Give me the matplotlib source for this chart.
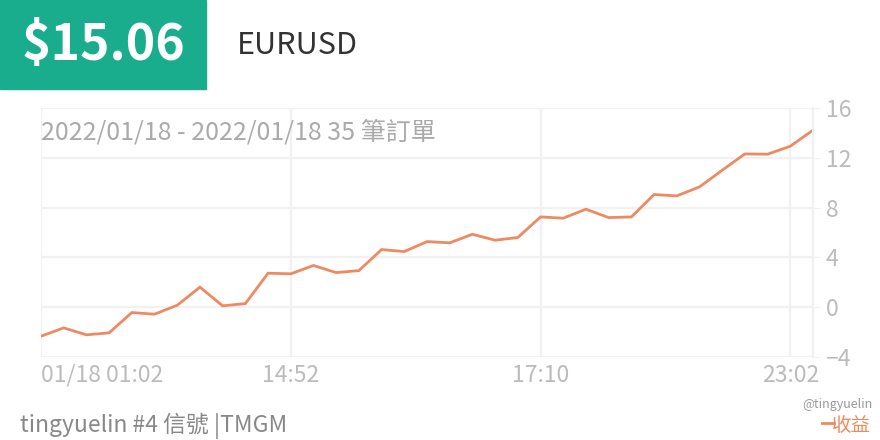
import matplotlib.pyplot as plt
from matplotlib.patches import Rectangle

plt.rcParams['font.family'] = ['Noto Sans CJK TC', 'DejaVu Sans']

# cumulative profit after each of the 35 orders
profit = [-2.33, -1.66, -2.22, -2.06, -0.43, -0.56, 0.16, 1.61, 0.11, 0.29,
          2.73, 2.68, 3.35, 2.78, 2.94, 4.63, 4.47, 5.27, 5.17, 5.86,
          5.38, 5.60, 7.25, 7.15, 7.87, 7.20, 7.25, 9.05, 8.94, 9.66,
          11.00, 12.31, 12.29, 12.93, 14.22]
tick_pos = [0, 11, 22, 33]
tick_labels = ["01/18 01:02", "14:52", "17:10", "23:02"]
y_ticks = [-4, 0, 4, 8, 12, 16]

total = "$15.06"
symbol = "EURUSD"
subtitle = "2022/01/18 - 2022/01/18 35 筆訂單"
footer = "tingyuelin #4 信號 |TMGM"

line_color = "#EE8A62"
grid_color = "#F1F1F1"
label_color = "#BBBBBB"

fig = plt.figure(figsize=(8.8, 4.4), dpi=100)
ax = fig.add_axes([41 / 880, 1 - 357 / 440, (813 - 41) / 880, (357 - 108) / 440])

ax.plot(range(len(profit)), profit, color=line_color, lw=2.0, solid_joinstyle="miter")
ax.set_xlim(0, len(profit) - 1)
ax.set_ylim(-4, 16)
ax.set_yticks(y_ticks)
ax.set_xticks(tick_pos, tick_labels)
ax.yaxis.tick_right()
ax.tick_params(axis="y", length=5, color=grid_color, pad=4, labelsize=16.5, labelcolor=label_color)
ax.tick_params(axis="x", length=0, pad=5, labelsize=16.5, labelcolor=label_color)
for lbl in ax.get_xticklabels() + ax.get_yticklabels():
    lbl.set_fontweight("light")
ax.get_xticklabels()[0].set_ha("left")
ax.grid(True, color=grid_color, lw=1.6)
for side in ["top", "bottom", "left"]:
    ax.spines[side].set_visible(False)
ax.spines["right"].set_color(grid_color)
ax.spines["right"].set_linewidth(1.6)

# header badge
fig.patches.append(Rectangle((0, 1 - 89 / 440), 206 / 880, 89 / 440,
                             transform=fig.transFigure, color="#19AD8E", zorder=0))
fig.text(103 / 880, 1 - 46 / 440, total, color="white", fontsize=36, fontweight="bold",
         ha="center", va="center")
fig.text(237 / 880, 1 - 46 / 440, symbol, color="#333333", fontsize=22,
         ha="left", va="center")

fig.text(41 / 880, 1 - 133 / 440, subtitle, color="#AAAAAA", fontsize=18,
         fontweight="light", ha="left", va="center")
fig.text(20 / 880, 1 - 426 / 440, footer, color="#888888", fontsize=16.5,
         fontweight="light", ha="left", va="center")

# legend entry and watermark in the lower right
fig.text(872 / 880, 1 - 404 / 440, "@tingyuelin", color="#999999", fontsize=9,
         ha="right", va="center")
fig.text(851 / 880, 1 - 425 / 440, "收益", color=line_color, fontsize=14,
         ha="center", va="center")
fig.add_artist(plt.Line2D([822 / 880, 834 / 880], [1 - 423 / 440, 1 - 423 / 440],
                          color=line_color, lw=2, transform=fig.transFigure))

fig.savefig("out.png", dpi=100)
